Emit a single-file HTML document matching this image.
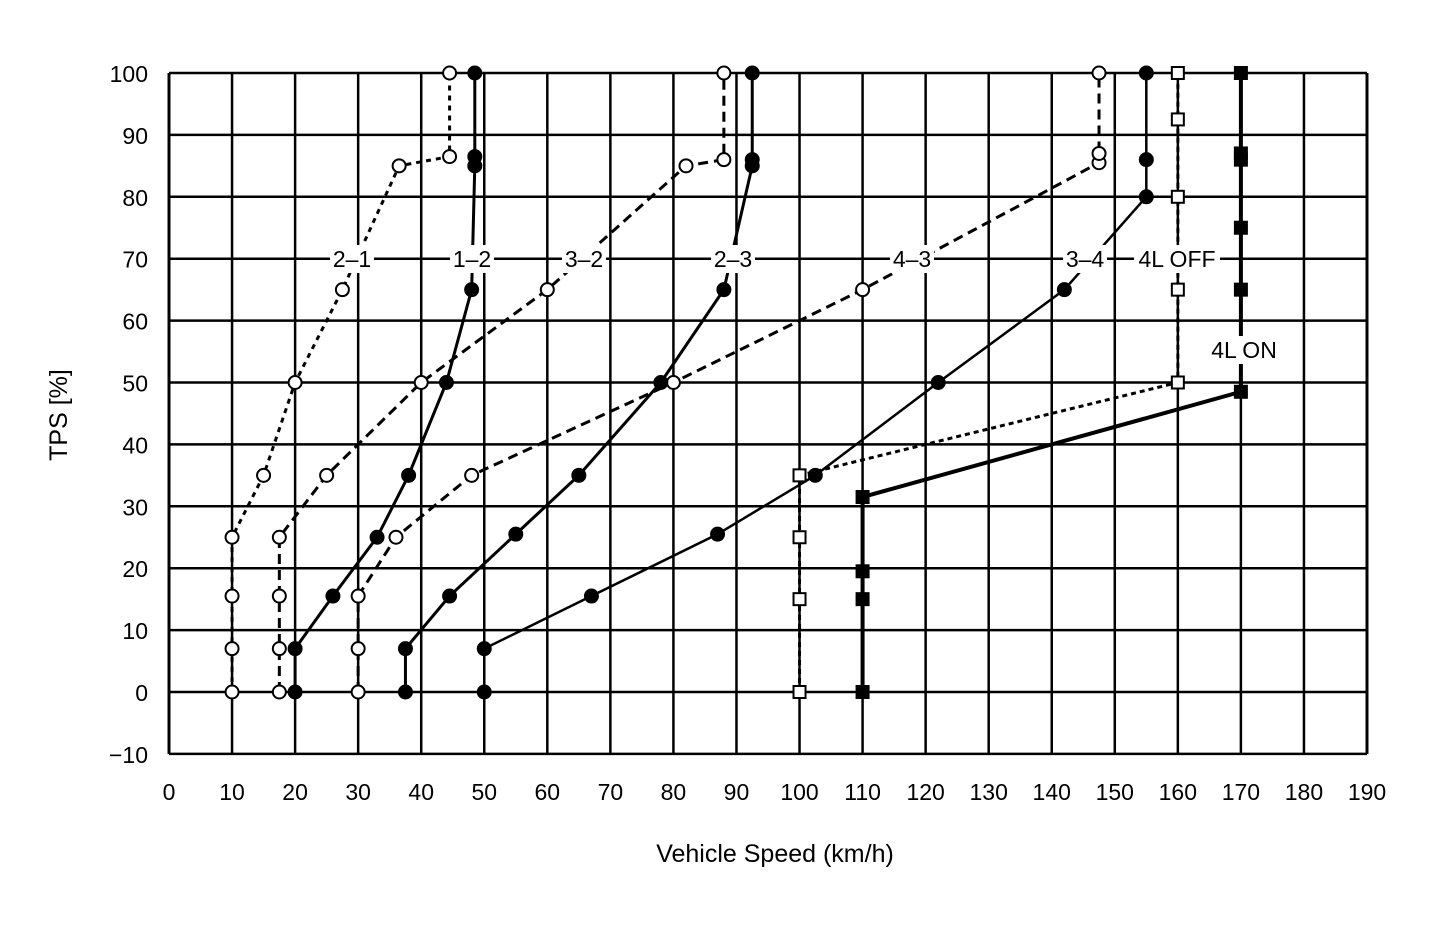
<!DOCTYPE html>
<html><head><meta charset="utf-8"><style>
body{margin:0;background:#fff}
svg text{font-family:"Liberation Sans",sans-serif;fill:#000}
</style></head><body>
<svg id="chart" width="1440" height="934" xmlns="http://www.w3.org/2000/svg">
<g id="grid"></g>
<g id="series"></g>
<g id="labels"></g>
<text x="775" y="862" font-size="25" text-anchor="middle">Vehicle Speed (km/h)</text>
<text transform="translate(67,415) rotate(-90)" font-size="25" text-anchor="middle">TPS [%]</text>
</svg>
<script>
const xTicks=[0,10,20,30,40,50,60,70,80,90,100,110,120,130,140,150,160,170,180,190];
const yTicks=[-10,0,10,20,30,40,50,60,70,80,90,100];
const s21x=[10,10,10,10,15,20,27.5,36.5,44.5,44.5];
const s21y=[0,7,15.5,25,35,50,65,85,86.5,100];
const s12x=[20,20,26,33,38,44,48,48.5,48.5,48.5];
const s12y=[0,7,15.5,25,35,50,65,85,86.5,100];
const s32x=[17.5,17.5,17.5,17.5,25,40,60,82,88,88];
const s32y=[0,7,15.5,25,35,50,65,85,86,100];
const s43x=[30,30,30,36,48,80,110,147.5,147.5,147.5];
const s43y=[0,7,15.5,25,35,50,65,85.5,87,100];
const s23x=[37.5,37.5,44.5,55,65,78,88,92.5,92.5,92.5];
const s23y=[0,7,15.5,25.5,35,50,65,85,86,100];
const s34x=[50,50,67,87,102.5,122,142,155,155,155];
const s34y=[0,7,15.5,25.5,35,50,65,80,86,100];
const offx=[100,100,100,100,160,160,160,160,160];
const offy=[0,15,25,35,50,65,80,92.5,100];
const onx=[110,110,110,110,170,170,170,170,170,170];
const ony=[0,15,19.5,31.5,48.5,65,75,86,87,100];
const sx=v=>169+v*(1367-169)/190;
const sy=v=>692-v*(692-73)/100;
const NS='http://www.w3.org/2000/svg';
function mk(tag,attrs,parent){const e=document.createElementNS(NS,tag);for(const k in attrs)e.setAttribute(k,attrs[k]);parent.appendChild(e);return e;}
const grid=document.getElementById('grid');
xTicks.forEach(v=>{
 const l=mk('line',{x1:sx(v),x2:sx(v),y1:sy(100),y2:sy(-10),stroke:'#000','stroke-width':(v==0||v==190)?3:2.5},grid);
 
 
 const t=mk('text',{x:sx(v),y:800,'font-size':23,'text-anchor':'middle'},grid);
 t.textContent=v;
 
 
});
yTicks.forEach(v=>{
 const l=mk('line',{x1:sx(0),x2:sx(190),y1:sy(v),y2:sy(v),stroke:'#000','stroke-width':2.5},grid);
 
 
 const t=mk('text',{x:148,y:sy(v)+9,'font-size':23,'text-anchor':'end'},grid);
 t.textContent=v<0?'\u2212'+(-v):v;
 
 
});
const ser=document.getElementById('series');
function series(name,xs,ys,dash,w,marker,fill){
 const g=mk('g',{},ser);
 
 
 const p=mk('polyline',{points:xs.map((x,i)=>sx(x)+','+sy(ys[i])).join(' '),fill:'none',stroke:'#000','stroke-width':w},g);
 if(dash)p.setAttribute('stroke-dasharray',dash);
 xs.forEach((x,i)=>{
  let m;
  if(marker=='c')m=mk('circle',{cx:sx(x),cy:sy(ys[i]),r:6.5,fill:fill,stroke:'#000','stroke-width':2},g);
  else m=mk('rect',{x:sx(x)-6,y:sy(ys[i])-6,width:12,height:12,fill:fill,stroke:'#000','stroke-width':2},g);
  
  
 });
}
series('series-2-1',s21x,s21y,'5 5',3,'c','#fff');
series('series-3-2',s32x,s32y,'10 6',3,'c','#fff');
series('series-4-3',s43x,s43y,'10 6',3,'c','#fff');
series('series-1-2',s12x,s12y,null,3,'c','#000');
series('series-2-3',s23x,s23y,null,3,'c','#000');
series('series-3-4',s34x,s34y,null,2.5,'c','#000');
series('series-4l-off',offx,offy,'5 4',3,'s','#fff');
series('series-4l-on',onx,ony,null,4,'s','#000');
const lab=document.getElementById('labels');
[['2\u20131',352,259],['1\u20132',472,259],['3\u20132',584,259],['2\u20133',733,259],['4\u20133',912,259],['3\u20134',1085,259],['4L OFF',1177,259],['4L ON',1244,350]].forEach(a=>{
 const w=a[0].length>4?86:44;
 const r=mk('rect',{x:a[1]-w/2,y:a[2]-14,width:w,height:28,fill:'#fff'},lab);
 
 
 const t=mk('text',{x:a[1],y:a[2]+8,'font-size':23,'text-anchor':'middle'},lab);
 t.textContent=a[0];
 
 
});
</script>
</body></html>
